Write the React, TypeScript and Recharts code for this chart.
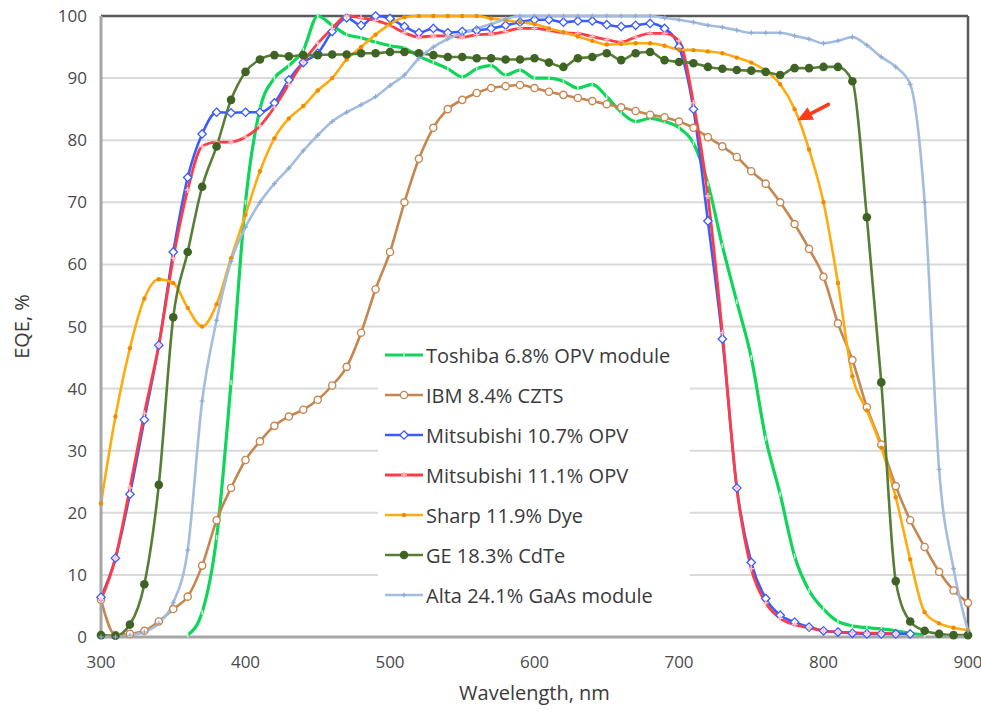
import React from "react";
import {
  LineChart,
  Line,
  XAxis,
  YAxis,
  CartesianGrid,
  Legend,
  ReferenceLine,
  ReferenceDot,
  Label,
} from "recharts";

const WAVELENGTHS = [
  300, 310, 320, 330, 340, 350, 360, 370, 380, 390, 400, 410, 420, 430, 440, 450, 460, 470, 480, 490,
  500, 510, 520, 530, 540, 550, 560, 570, 580, 590, 600, 610, 620, 630, 640, 650, 660, 670, 680, 690,
  700, 710, 720, 730, 740, 750, 760, 770, 780, 790, 800, 810, 820, 830, 840, 850, 860, 870, 880, 890, 900,
];

const TOSHIBA = [
  null, null, null, null, null, null, 0.3, 4, 16, 41, 70, 85, 90, 92, 94.5, 100, 98.5, 97, 96.5, 95.8,
  95.2, 94.8, 93.5, 92.5, 91.5, 90.2, 91.5, 92, 90.5, 91.3, 90, 90, 89.5, 88.4, 89, 87, 84.5, 83, 83.5, 83,
  82, 79.5, 73, 63, 54, 45, 32, 23, 13, 7.5, 4.5, 2.5, 1.8, 1.5, 1.3, 1, 0.6, 0.3, null, null, null,
];

const IBM = [
  6, 0.3, 0.5, 1, 2.5, 4.5, 6.5, 11.5, 18.8, 24, 28.5, 31.5, 34, 35.5, 36.6, 38.2, 40.5, 43.5, 49, 56,
  62, 70, 77, 82, 85, 86.5, 87.6, 88.4, 88.7, 88.9, 88.4, 87.8, 87.3, 86.8, 86.3, 85.8, 85.3, 84.7, 84.1, 83.7,
  83, 82, 80.5, 79, 77.3, 75, 73, 70, 66.5, 62.5, 58, 50.5, 44.6, 37, 31, 24.3, 18.8, 14.5, 10.5, 7.5, 5.5,
];

const MITSU_107 = [
  6.4, 12.7, 23, 35, 47, 62, 74, 81, 84.5, 84.4, 84.5, 84.5, 86, 89.7, 92.5, 94, 97.5, 99.7, 98.5, 100,
  99.6, 98.3, 97.3, 98, 97.3, 97.5, 97.7, 98, 98.5, 99, 99.4, 99.4, 99, 99.2, 99.2, 98.6, 98.3, 98.5, 98.8, 98,
  95, 85, 67, 48, 24, 12, 6.2, 3.5, 2.4, 1.6, 1, 0.8, 0.6, 0.5, 0.5, 0.5, 0.5, null, null, null, null,
];

const MITSU_111 = [
  6, 12.7, 24, 36, 47, 61, 72, 79, 79.7, 79.7, 80.5, 82.3, 85.3, 89, 92.6, 95.6, 98, 100, 99.7, 99.3,
  98.5, 97.3, 96.6, 96.8, 96.8, 96.6, 97, 97.1, 97.5, 98, 98, 97.7, 97.3, 97.2, 96.7, 96.2, 95.8, 96.6, 97.2, 97.2,
  96, 86, 71, 49, 24, 11, 5.5, 3, 2, 1.5, 1, 0.8, 0.7, 0.6, 0.6, 0.5, null, null, null, null, null,
];

const SHARP = [
  21.5, 35.5, 46.5, 54.5, 57.6, 57, 53, 50, 53.6, 61, 68, 75, 80.3, 83.5, 85.5, 88, 90, 93, 95, 97,
  98.7, 99.8, 100, 100, 100, 100, 100, 99.6, 99.3, 99, 98.7, 98, 97.4, 96.7, 96, 95.4, 95.5, 95.6, 95.6, 95.2,
  94.6, 94.5, 94.3, 94, 93.3, 92.5, 91.2, 89, 85, 78.5, 70, 57, 42, 36.5, 30.5, 22.5, 12.5, 4, 2.2, 1.5, 1.1,
];

const GE = [
  0.3, 0.2, 2, 8.5, 24.5, 51.5, 62, 72.5, 79, 86.5, 91, 93, 93.7, 93.5, 93.7, 93.7, 93.8, 93.8, 94, 94,
  94.2, 94.2, 94, 93.7, 93.4, 93.4, 93.2, 93.2, 93, 93, 93.2, 92.5, 91.8, 93.2, 93.4, 94, 92.9, 94, 94.2, 92.9,
  92.6, 92.4, 91.8, 91.5, 91.3, 91.2, 91, 90.5, 91.6, 91.6, 91.8, 91.8, 89.5, 67.6, 41, 9, 2.5, 1, 0.5, 0.3, 0.3,
];

const ALTA = [
  0, 0, 0.3, 0.8, 2.2, 5.5, 14, 38, 51, 60.5, 66, 70, 73, 75.5, 78.3, 80.8, 83, 84.5, 85.7, 87,
  88.8, 90.5, 93.2, 95, 96.3, 97.2, 98, 98.7, 99.5, 100, 100, 100, 100, 100, 100, 100, 100, 100, 100, 99.7,
  99.4, 99, 98.5, 98.2, 97.7, 97.3, 97.3, 97.3, 96.8, 96.3, 95.6, 96, 96.6, 95.3, 93.4, 91.8, 89, 70, 27, 11, 1,
];

const X_TICKS = [300, 400, 500, 600, 700, 800, 900];
const Y_TICKS = [0, 10, 20, 30, 40, 50, 60, 70, 80, 90, 100];

const SERIES_NAMES = [
  "Toshiba 6.8% OPV module",
  "IBM 8.4% CZTS",
  "Mitsubishi 10.7% OPV",
  "Mitsubishi 11.1% OPV",
  "Sharp 11.9% Dye",
  "GE 18.3% CdTe",
  "Alta 24.1% GaAs module",
];

const ARROW_POINT = { x: 782, y: 83.2 };

const data = WAVELENGTHS.map((w, i) => ({
  x: w,
  toshiba: TOSHIBA[i],
  ibm: IBM[i],
  m107: MITSU_107[i],
  m111: MITSU_111[i],
  sharp: SHARP[i],
  ge: GE[i],
  alta: ALTA[i],
}));

type MarkerKind = "dash" | "circleOpen" | "diamondOpen" | "plus" | "dotSmall" | "dotBig" | "cross";

function Marker({ kind, cx, cy, color, accent }: { kind: MarkerKind; cx: number; cy: number; color: string; accent: string }) {
  switch (kind) {
    case "dash":
      return <line x1={cx} y1={cy - 2.5} x2={cx} y2={cy + 2.5} stroke={accent} strokeWidth={1.5} />;
    case "circleOpen":
      return <circle cx={cx} cy={cy} r={3.6} fill="#fff" stroke={color} strokeWidth={1.4} />;
    case "diamondOpen":
      return (
        <polygon
          points={`${cx},${cy - 4.2} ${cx + 4.2},${cy} ${cx},${cy + 4.2} ${cx - 4.2},${cy}`}
          fill="#fff"
          stroke={color}
          strokeWidth={1.3}
        />
      );
    case "plus":
      return (
        <g stroke={accent} strokeWidth={1.4}>
          <line x1={cx - 3} y1={cy} x2={cx + 3} y2={cy} />
          <line x1={cx} y1={cy - 3} x2={cx} y2={cy + 3} />
        </g>
      );
    case "dotSmall":
      return <circle cx={cx} cy={cy} r={2.2} fill={accent} />;
    case "dotBig":
      return <circle cx={cx} cy={cy} r={4.3} fill={accent} />;
    case "cross":
      return (
        <g stroke={accent} strokeWidth={1.2}>
          <line x1={cx - 2.5} y1={cy} x2={cx + 2.5} y2={cy} />
          <line x1={cx} y1={cy - 2.5} x2={cx} y2={cy + 2.5} />
        </g>
      );
  }
  return null;
}

const SERIES: { key: string; name: string; color: string; accent: string; width: number; marker: MarkerKind }[] = [
  { key: "toshiba", name: SERIES_NAMES[0], color: "#0fd65a", accent: "#b8f5c8", width: 3.2, marker: "dash" },
  { key: "ibm", name: SERIES_NAMES[1], color: "#c68650", accent: "#ffffff", width: 2.6, marker: "circleOpen" },
  { key: "m107", name: SERIES_NAMES[2], color: "#3a5cff", accent: "#ffffff", width: 2.6, marker: "diamondOpen" },
  { key: "m111", name: SERIES_NAMES[3], color: "#ff3b45", accent: "#ffc0c4", width: 2.8, marker: "plus" },
  { key: "sharp", name: SERIES_NAMES[4], color: "#ffab0f", accent: "#f08a00", width: 2.6, marker: "dotSmall" },
  { key: "ge", name: SERIES_NAMES[5], color: "#567f35", accent: "#3f6324", width: 2.6, marker: "dotBig" },
  { key: "alta", name: SERIES_NAMES[6], color: "#a3bde0", accent: "#8eaad4", width: 2.6, marker: "cross" },
];

const FONT = "'Open Sans', 'Liberation Sans', sans-serif";

function LegendContent() {
  return (
    <div style={{ background: "#fff", padding: "2px 0 0 6px", fontFamily: FONT }}>
      {SERIES.map((s) => (
        <div key={s.key} style={{ display: "flex", alignItems: "center", height: 40 }}>
          <svg width={40} height={20} style={{ display: "block" }}>
            <line x1={1} y1={10} x2={39} y2={10} stroke={s.color} strokeWidth={s.width} />
            <Marker kind={s.marker} cx={20} cy={10} color={s.color} accent={s.accent} />
          </svg>
          <span style={{ fontSize: 20, color: "#3a3a3a", marginLeft: 2, whiteSpace: "nowrap" }}>{s.name}</span>
        </div>
      ))}
    </div>
  );
}

function ArrowShape(props: any) {
  const { cx, cy } = props;
  if (cx == null || cy == null) return <g />;
  return (
    <g>
      <line x1={cx + 10} y1={cy - 5} x2={cx + 31} y2={cy - 16} stroke="#ff3a1a" strokeWidth={3.5} strokeLinecap="round" />
      <polygon points={`${cx},${cy} ${cx + 16.5},${cy - 0.7} ${cx + 10.1},${cy - 13.1}`} fill="#ff3a1a" />
    </g>
  );
}

export default function App() {
  return (
    <div style={{ position: "absolute", left: 0, top: 0, width: 981, height: 714, background: "#fff" }}>
      <LineChart
        width={981}
        height={714}
        data={data}
        margin={{ top: 16, right: 13, left: 0, bottom: 0 }}
      >
        <CartesianGrid vertical={false} stroke="#d9d9d9" strokeWidth={2} />
        <XAxis
          type="number"
          dataKey="x"
          domain={[300, 900]}
          ticks={X_TICKS}
          height={77}
          tickLine={false}
          tickSize={0}
          tickMargin={19}
          axisLine={{ stroke: "#a6a6a6", strokeWidth: 3 }}
          tick={{ fill: "#4a4a4a", fontSize: 17, fontFamily: FONT }}
        >
          <Label value="Wavelength, nm" position="insideBottom" offset={14} style={{ fill: "#3a3a3a", fontSize: 20, fontFamily: FONT }} />
        </XAxis>
        <YAxis
          type="number"
          domain={[0, 100]}
          ticks={Y_TICKS}
          width={101}
          tickLine={false}
          tickSize={0}
          tickMargin={14}
          axisLine={{ stroke: "#a6a6a6", strokeWidth: 3 }}
          tick={{ fill: "#4a4a4a", fontSize: 17, fontFamily: FONT }}
        >
          <Label
            value="EQE, %"
            angle={-90}
            position="insideLeft"
            offset={22}
            style={{ fill: "#3a3a3a", fontSize: 20, fontFamily: FONT, textAnchor: "middle" }}
          />
        </YAxis>
        <ReferenceLine y={100} stroke="#595959" strokeWidth={2.5} />
        <ReferenceLine x={900} stroke="#595959" strokeWidth={2.5} />
        {SERIES.map((s) => (
          <Line
            key={s.key}
            dataKey={s.key}
            name={s.name}
            type="monotone"
            stroke={s.color}
            strokeWidth={s.width}
            isAnimationActive={false}
            connectNulls={false}
            dot={(p: any) => {
              if (p.cx == null || p.cy == null || p.value == null) return <g key={p.key ?? `${s.key}-${p.index}`} />;
              return (
                <g key={p.key ?? `${s.key}-${p.index}`}>
                  <Marker kind={s.marker} cx={p.cx} cy={p.cy} color={s.color} accent={s.accent} />
                </g>
              );
            }}
            activeDot={false}
          />
        ))}
        <ReferenceDot x={ARROW_POINT.x} y={ARROW_POINT.y} r={0} shape={ArrowShape} />
        <Legend
          layout="vertical"
          align="center"
          verticalAlign="middle"
          content={<LegendContent />}
          wrapperStyle={{ left: 378, top: 333, width: 312, height: 282, background: "#fff" }}
        />
      </LineChart>
    </div>
  );
}
